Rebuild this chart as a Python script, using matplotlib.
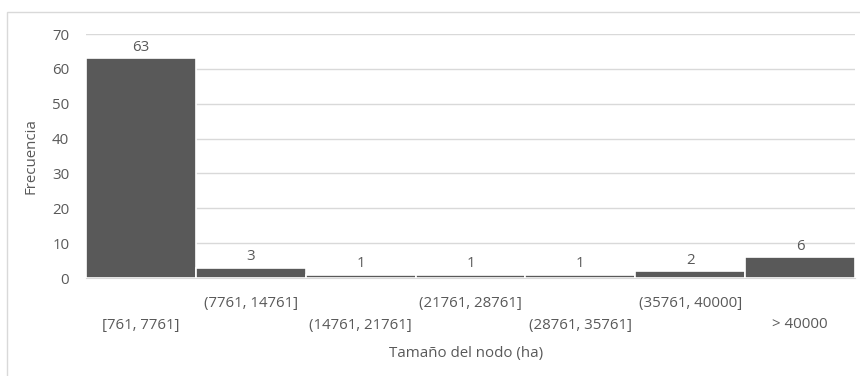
import matplotlib.pyplot as plt
from matplotlib.patches import Rectangle

# histogram bins and counts
bins = ["[761, 7761]", "(7761, 14761]", "(14761, 21761]", "(21761, 28761]",
        "(28761, 35761]", "(35761, 40000]", "> 40000"]
counts = [63, 3, 1, 1, 1, 2, 6]
y_ticks = [0, 10, 20, 30, 40, 50, 60, 70]

txt = "#595959"
fs = 10.8
plt.rcParams['font.family'] = ['Open Sans', 'DejaVu Sans']

fig = plt.figure(figsize=(8.6, 3.76), dpi=100)
ax = fig.add_axes([86 / 860, 1 - 278 / 376, (855 - 86) / 860, (278 - 34) / 376])

# outer chart frame (cut off at right and bottom like the screenshot)
fig.patches.append(Rectangle((7 / 860, -0.05), 1.0, 1 - 12 / 376 + 0.05,
                             transform=fig.transFigure, fill=False,
                             edgecolor="#d9d9d9", linewidth=1))

x = range(len(bins))
bars = ax.bar(x, counts, width=1.0, color="#595959", edgecolor="white", linewidth=1.2, zorder=3)
for xi, c in zip(x, counts):
    ax.text(xi, c + 1.0, str(c), ha="center", va="bottom", fontsize=fs, color=txt)

ax.set_xlim(-0.5, len(bins) - 0.5)
ax.set_ylim(0, 70)
ax.set_yticks(y_ticks)
ax.tick_params(axis="y", length=0, labelsize=fs, labelcolor=txt, pad=12)
ax.grid(axis="y", color="#d9d9d9", linewidth=1, zorder=0)
for s in ["top", "right", "left"]:
    ax.spines[s].set_visible(False)
ax.spines["bottom"].set_color("#d9d9d9")

ax.set_xticks(list(x))
ax.set_xticklabels([])
ax.tick_params(axis="x", length=0)
for i, lab in enumerate(bins):
    dy = 47 if i % 2 == 0 else 26
    ax.annotate(lab, xy=(i, 0), xycoords="data", xytext=(0, -dy), textcoords="offset pixels",
                ha="center", va="center", fontsize=fs, color=txt)

ax.set_ylabel("Frecuencia", fontsize=fs, color=txt, labelpad=10)
fig.text((86 + 855) / 2 / 860 - 0.005, 1 - 354 / 376, "Tamaño del nodo (ha)",
         ha="center", va="center", fontsize=fs, color=txt)

fig.savefig("out.png", dpi=100)
